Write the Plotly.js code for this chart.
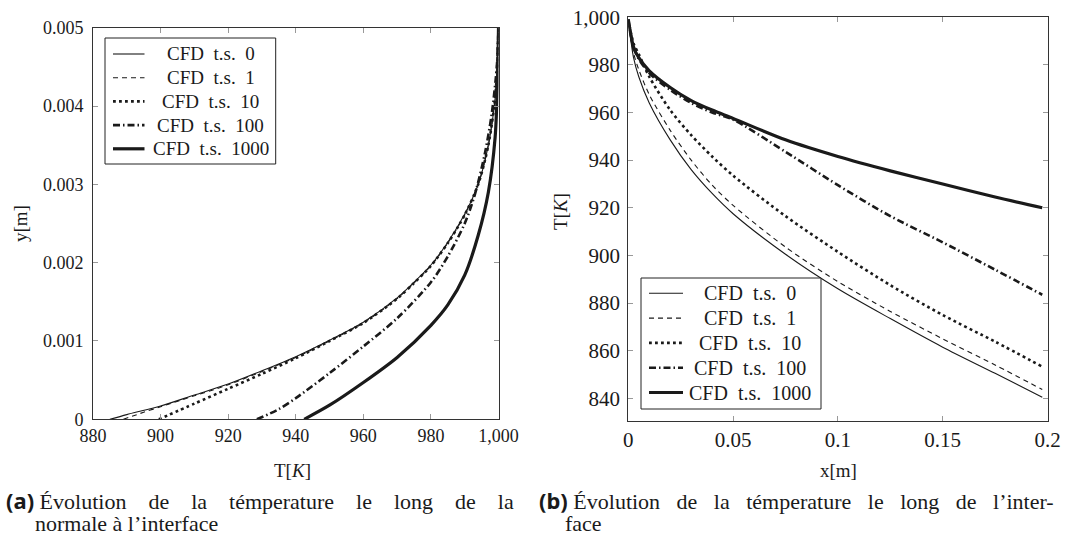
<!DOCTYPE html>
<html>
<head>
<meta charset="utf-8">
<script src="https://cdn.plot.ly/plotly-3.0.1.min.js"></script>
<style>html,body{margin:0;padding:0;background:#fff;}#chart{width:1065px;height:547px;}</style>
</head>
<body>
<div id="chart"></div>
<script>
// ---------- series names ----------
const seriesNames = ['CFD t.s. 0', 'CFD t.s. 1', 'CFD t.s. 10', 'CFD t.s. 100', 'CFD t.s. 1000'];

// ---------- (a) temperature along the normal: T [K] vs y [m] ----------
const aT_ts0 = [885, 890, 900, 910, 920, 930, 940, 950, 960, 970, 975, 980, 985, 990, 994, 997, 999, 999.7, 1000];
const aY_ts0 = [0, 0.00006, 0.00017, 0.00031, 0.00045, 0.00062, 0.0008, 0.00101, 0.00124, 0.00155, 0.00175, 0.00197, 0.00226, 0.00262, 0.003, 0.0035, 0.0041, 0.0046, 0.005];
const aT_ts1 = [889, 895, 900, 910, 920, 930, 940, 950, 960, 970, 975, 980, 985, 990, 994, 997, 999, 999.7, 1000];
const aY_ts1 = [0, 0.00009, 0.00016, 0.0003, 0.00044, 0.00061, 0.00079, 0.001, 0.00123, 0.00154, 0.00174, 0.00196, 0.00225, 0.00261, 0.003, 0.0035, 0.0041, 0.0046, 0.005];
const aT_ts10 = [899.5, 910, 920, 930, 940, 950, 960, 970, 975, 980, 985, 990, 994, 997, 999, 999.7, 1000];
const aY_ts10 = [0, 0.0002, 0.00039, 0.00058, 0.00078, 0.001, 0.00123, 0.00154, 0.00174, 0.00196, 0.00225, 0.00261, 0.003, 0.0035, 0.0041, 0.0046, 0.005];
const aT_ts100 = [928.5, 935, 940, 950, 960, 970, 980, 985, 990, 993, 996, 998, 999.5, 1000];
const aY_ts100 = [0, 0.00013, 0.00027, 0.00059, 0.00093, 0.00129, 0.00175, 0.00208, 0.0025, 0.00287, 0.0034, 0.0039, 0.0045, 0.005];
const aT_ts1000 = [942.5, 950, 960, 970, 980, 985, 990, 994, 997, 999, 999.7, 1000];
const aY_ts1000 = [0, 0.00018, 0.00047, 0.00079, 0.0012, 0.00146, 0.00184, 0.00235, 0.0029, 0.0036, 0.0043, 0.005];

// ---------- (b) temperature along the interface: x [m] vs T [K] ----------
const bX = [0, 0.0025, 0.005, 0.01, 0.02, 0.03, 0.04, 0.05, 0.075, 0.1, 0.125, 0.15, 0.175, 0.1975];
const bT_ts0 = [999, 983, 975, 964, 948.5, 936, 926, 917.5, 900.5, 886, 873.5, 861.5, 850.5, 840.5];
const bT_ts1 = [999, 985, 978, 967.5, 952.5, 940, 929.5, 921, 903.5, 889, 876.5, 865, 854, 843.7];
const bT_ts10 = [999, 989, 984.5, 975, 961, 950.5, 941.5, 933.5, 916.5, 901.5, 887.5, 875, 863.8, 853.3];
const bT_ts100 = [999, 987.5, 982.5, 976.5, 969.5, 964, 960, 957, 943.5, 929.5, 916.5, 905.5, 894, 883.5];
const bT_ts1000 = [999, 987.5, 983, 977.5, 970.5, 965, 961, 957.5, 948.5, 941.5, 935.5, 930, 924.5, 920];

// ---------- titles / captions ----------
const aXTitle = 'T[<i>K</i>]';
const aYTitle = 'y[m]';
const bXTitle = 'x[m]';
const bYTitle = 'T[<i>K</i>]';
const capA1 = ['Évolution', 'de', 'la', 'témperature', 'le', 'long', 'de', 'la'];
const capA2 = 'normale à l’interface';
const capB1 = ['Évolution', 'de', 'la', 'témperature', 'le', 'long', 'de', 'l’inter-'];
const capB2 = 'face';

// ---------- styles ----------
const INK = '#1a1a1a';
const SERIF = 'Liberation Serif';
const styles = [
  {width: 1.1, dash: 'solid'},
  {width: 1.1, dash: '5px,4px'},
  {width: 2.6, dash: '2.8px,3.2px'},
  {width: 2.6, dash: '7px,3px,1.5px,3px'},
  {width: 3.2, dash: 'solid'}
];

const aData = [[aT_ts0, aY_ts0], [aT_ts1, aY_ts1], [aT_ts10, aY_ts10], [aT_ts100, aY_ts100], [aT_ts1000, aY_ts1000]];
const bData = [bT_ts0, bT_ts1, bT_ts10, bT_ts100, bT_ts1000];

const traces = [];
aData.forEach((d, i) => {
  traces.push({
    type: 'scatter', mode: 'lines', x: d[0], y: d[1], xaxis: 'x', yaxis: 'y',
    name: seriesNames[i], showlegend: false,
    line: {color: INK, width: styles[i].width, dash: styles[i].dash, shape: 'spline', smoothing: 0.8},
    hoverinfo: 'skip'
  });
});
bData.forEach((d, i) => {
  traces.push({
    type: 'scatter', mode: 'lines', x: bX, y: d, xaxis: 'x2', yaxis: 'y2',
    name: seriesNames[i], showlegend: false,
    line: {color: INK, width: styles[i].width, dash: styles[i].dash, shape: 'spline', smoothing: 0.8},
    hoverinfo: 'skip'
  });
});

function axis(extra) {
  return Object.assign({
    showline: true, linecolor: '#333', linewidth: 1, mirror: 'ticks',
    ticks: 'inside', ticklen: 5, tickwidth: 1, tickcolor: '#999',
    showgrid: false, zeroline: false, fixedrange: true,
    tickfont: {family: SERIF, size: 18, color: INK}
  }, extra);
}

const W = 1065, H = 547;
const px = v => v / W;
const py = v => (H - v) / H;

const titleFont = {family: SERIF, size: 19, color: INK};
const ann = (text, x, y, extra) => Object.assign({text, xref: 'paper', yref: 'paper', x: px(x), y: py(y), showarrow: false,
  xanchor: 'center', yanchor: 'middle', font: titleFont}, extra || {});

// ---------- boxed legends (centred labels, as in the original) ----------
const shapes = [];
const annotations = [];
function boxedLegend(box, row0, rowStep, lineX0, lineX1, textCx, fontSize) {
  shapes.push({type: 'rect', xref: 'paper', yref: 'paper', layer: 'above',
    x0: px(box[0]), x1: px(box[2]), y0: py(box[3]), y1: py(box[1]),
    line: {color: '#222', width: 1}, fillcolor: '#fff'});
  seriesNames.forEach((name, i) => {
    const yy = row0 + i * rowStep;
    shapes.push({type: 'line', xref: 'paper', yref: 'paper', layer: 'above',
      x0: px(lineX0), x1: px(lineX1), y0: py(yy), y1: py(yy),
      line: {color: INK, width: styles[i].width, dash: styles[i].dash}});
    const parts = name.split(' ');
    const label = parts[0] + '\u00a0\u00a0' + parts[1] + '\u00a0 ' + parts[2];
    annotations.push(ann(label, textCx, yy, {font: {family: SERIF, size: fontSize, color: INK}}));
  });
}
boxedLegend([105, 38, 275.7, 164], 54, 23.7, 113, 144.5, 210.5, 19);
boxedLegend([641, 278, 821, 409], 293.3, 24.8, 649, 683, 750, 20);

const capFont = {family: SERIF, size: 22, color: INK};
const lbl = s => '<span style="font-family:Noto Sans;font-weight:bold">' + s + '</span>';
const gapA = '\u00a0\u00a0\u00a0 ';
const gapB = '\u00a0\u00a0 ';

annotations.push(
  ann(aXTitle, 292, 470),
  ann(aYTitle, 20, 224, {textangle: -90}),
  ann(bXTitle, 838, 470),
  ann(bYTitle, 560, 212, {textangle: -90}),
  ann(lbl('(a)') + ' ' + capA1.join(gapA), 4, 500, {xanchor: 'left', font: capFont}),
  ann(capA2, 33, 523, {xanchor: 'left', font: capFont}),
  ann(lbl('(b)') + ' ' + capB1.join(gapB), 537, 500, {xanchor: 'left', font: capFont}),
  ann(capB2, 563, 523, {xanchor: 'left', font: capFont})
);

const layout = {
  width: W, height: H,
  margin: {l: 0, r: 0, t: 0, b: 0},
  paper_bgcolor: '#fff', plot_bgcolor: '#fff',
  font: {family: SERIF, size: 18, color: INK},
  showlegend: false,
  xaxis: axis({domain: [px(93), px(498.5)], range: [880, 1000], tick0: 880, dtick: 20, tickformat: ',', anchor: 'y', ticklabelstandoff: 0}),
  yaxis: axis({domain: [py(419.3), py(27.7)], range: [0, 0.005], tick0: 0, dtick: 0.001, anchor: 'x', ticklabelstandoff: 5}),
  xaxis2: axis({domain: [px(628.3), px(1047.5)], range: [0, 0.2], tick0: 0, dtick: 0.05, anchor: 'y2', ticklabelstandoff: 0,
    tickfont: {family: SERIF, size: 21, color: INK}}),
  yaxis2: axis({domain: [py(421), py(16.7)], range: [830.5, 1000.2], tick0: 840, dtick: 20, tickformat: ',', anchor: 'x2', ticklabelstandoff: 3,
    tickfont: {family: SERIF, size: 21, color: INK}}),
  shapes: shapes,
  annotations: annotations
};

Plotly.newPlot('chart', traces, layout, {staticPlot: true, displayModeBar: false});
</script>
</body>
</html>
